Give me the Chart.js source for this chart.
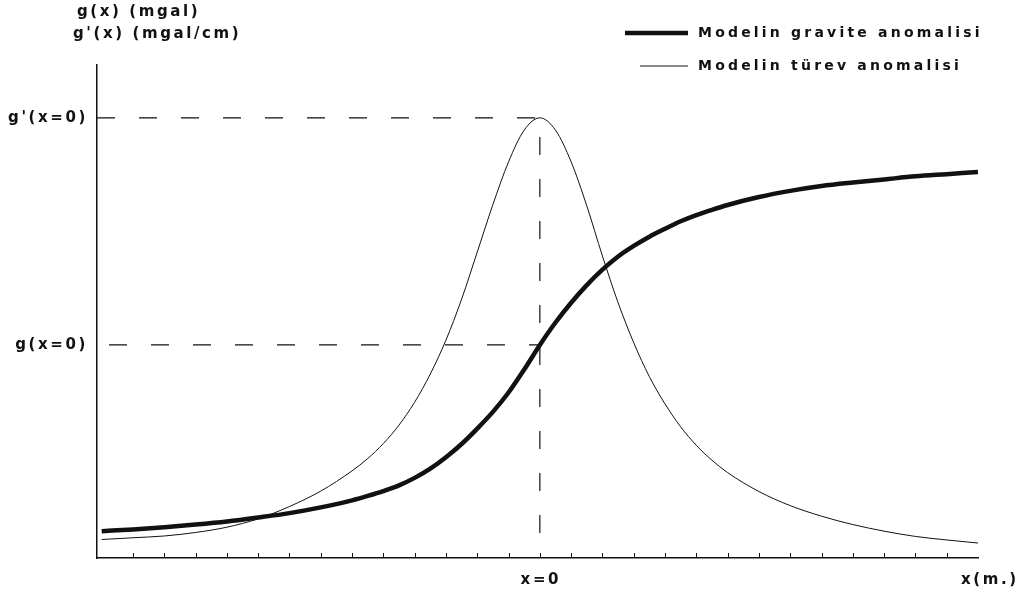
<!DOCTYPE html>
<html>
<head>
<meta charset="utf-8">
<script src="https://cdn.jsdelivr.net/npm/chart.js@4.4.1/dist/chart.umd.min.js"></script>
<style>
  html, body { margin: 0; padding: 0; background: #fff; }
  #wrap { width: 1017px; height: 596px; }
</style>
</head>
<body>
<div id="wrap"><canvas id="chart"></canvas></div>
<script>
// x positions (tick units, x=0 under the peak); denser near the centre
const xs = [-14, -13, -12, -11, -10, -9, -8, -7,
            -6, -5.5, -5, -4.5, -4, -3.5, -3, -2.5, -2, -1.5, -1, -0.5, 0,
            0.5, 1, 1.5, 2, 2.5, 3, 3.5, 4, 4.5, 5, 5.5, 6,
            7, 8, 9, 10, 11, 12, 13, 14];
// g(x) - model gravity anomaly
const gravity = [6.1, 6.5, 7.0, 7.6, 8.3, 9.2, 10.2, 11.5,
                 13.1, 14.1, 15.2, 16.5, 18.2, 20.3, 22.9, 25.9, 29.4, 33.2, 37.6, 42.8, 48.4,
                 53.5, 58.0, 62.0, 65.5, 68.5, 70.9, 73.0, 74.8, 76.5, 77.9, 79.1, 80.2,
                 82.0, 83.4, 84.5, 85.3, 86.0, 86.7, 87.2, 87.7];
// g'(x) - model derivative anomaly
const derivative = [4.2, 4.6, 5.0, 5.8, 7.0, 8.9, 11.7, 15.2,
                    19.8, 22.6, 26.0, 30.2, 35.4, 41.8, 49.5, 58.8, 69.5, 80.3, 90.0, 97.2, 100,
                    97.2, 90.0, 80.0, 68.6, 58.0, 48.9, 41.2, 35.0, 29.8, 25.6, 22.2, 19.4,
                    15.1, 11.9, 9.5, 7.6, 6.1, 4.9, 4.1, 3.4];
const xTicks = [-13, -12, -11, -10, -9, -8, -7, -6, -5, -4, -3, -2, -1, 0,
                1, 2, 3, 4, 5, 6, 7, 8, 9, 10, 11, 12, 13];
const yTickLabels = ['g(x=0)', "g'(x=0)"];
const yTickValues = [48.4, 100];
const seriesNames = ['Modelin gravite anomalisi', 'Modelin türev anomalisi'];

const xMin = -14.15, xMax = 14, yMin = 0, yMax = 112;
const ink = '#111';
const font = 'bold 15px "DejaVu Sans", sans-serif';

const pts = arr => xs.map((x, i) => ({ x: x, y: arr[i] }));

const overlay = {
  id: 'overlay',
  afterDraw(chart) {
    const { ctx, scales: { x, y } } = chart;
    const base = y.getPixelForValue(0);
    ctx.save();
    ctx.strokeStyle = ink;
    ctx.lineWidth = 1;
    // small tick marks pointing up from the x axis
    xTicks.forEach(v => {
      const px = Math.round(x.getPixelForValue(v)) + 0.5;
      ctx.beginPath();
      ctx.moveTo(px, base);
      ctx.lineTo(px, base - 5);
      ctx.stroke();
    });

    ctx.fillStyle = ink;
    ctx.font = font;
    ctx.letterSpacing = '2.6px';
    ctx.textBaseline = 'middle';

    // y labels
    ctx.textAlign = 'right';
    yTickValues.forEach((v, i) => ctx.fillText(yTickLabels[i], 88, y.getPixelForValue(v)));

    // axis titles
    ctx.textAlign = 'left';
    ctx.fillText('g(x) (mgal)', 77, 12);
    ctx.fillText("g'(x) (mgal/cm)", 73, 34);
    ctx.textAlign = 'center';
    ctx.fillText('x=0', x.getPixelForValue(0) + 1, 580);
    ctx.textAlign = 'left';
    ctx.fillText('x(m.)', 961, 580);

    // legend
    ctx.font = 'bold 14px "DejaVu Sans", sans-serif';
    ctx.letterSpacing = '3.2px';
    const rows = [33, 66];
    chart.data.datasets.slice(0, 2).forEach((ds, i) => {
      ctx.beginPath();
      ctx.lineWidth = ds.borderWidth;
      ctx.moveTo(i === 0 ? 625 : 640, rows[i]);
      ctx.lineTo(688, rows[i]);
      ctx.stroke();
      ctx.fillText(ds.label, 698, rows[i]);
    });
    ctx.restore();
  }
};

new Chart(document.getElementById('chart'), {
  type: 'line',
  data: {
    datasets: [
      {
        label: seriesNames[0],
        data: pts(gravity),
        borderColor: ink,
        borderWidth: 4.5,
        pointRadius: 0,
        cubicInterpolationMode: 'monotone'
      },
      {
        label: seriesNames[1],
        data: pts(derivative),
        borderColor: ink,
        borderWidth: 1,
        pointRadius: 0,
        cubicInterpolationMode: 'monotone'
      },
      {
        label: 'guide1',
        data: [{ x: xMin, y: yTickValues[1] }, { x: 0, y: yTickValues[1] }, { x: 0, y: yMin }],
        borderColor: ink,
        borderWidth: 1.2,
        borderDash: [18, 24],
        pointRadius: 0
      },
      {
        label: 'guide2',
        data: [{ x: xMin, y: yTickValues[0] }, { x: 0, y: yTickValues[0] }],
        borderColor: ink,
        borderWidth: 1.2,
        borderDash: [18, 24],
        borderDashOffset: -12,
        pointRadius: 0
      }
    ]
  },
  options: {
    responsive: true,
    maintainAspectRatio: false,
    animation: false,
    layout: { padding: { left: 97, right: 39, top: 65, bottom: 38 } },
    plugins: { legend: { display: false }, tooltip: { enabled: false } },
    scales: {
      x: {
        type: 'linear',
        min: xMin,
        max: xMax,
        grid: { display: false, drawTicks: false },
        border: { display: true, color: ink, width: 1.5 },
        ticks: { display: false }
      },
      y: {
        min: yMin,
        max: yMax,
        grid: { display: false, drawTicks: false },
        border: { display: true, color: ink, width: 1.5 },
        ticks: { display: false }
      }
    }
  },
  plugins: [overlay]
});
</script>
</body>
</html>
